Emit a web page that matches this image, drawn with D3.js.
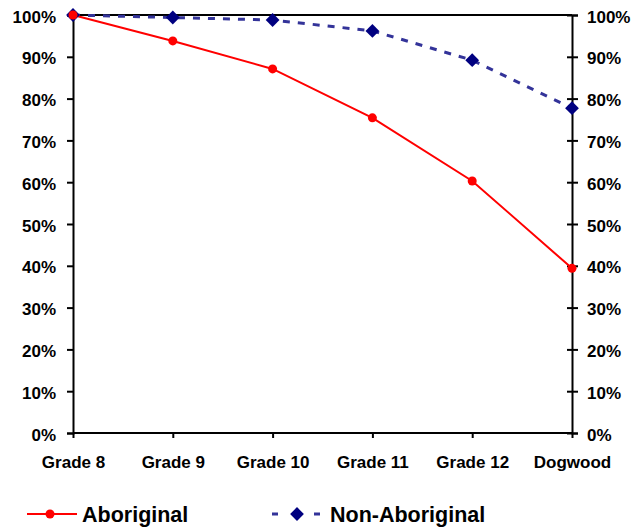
<!DOCTYPE html>
<html><head><meta charset="utf-8">
<script src="https://cdn.jsdelivr.net/npm/d3@7"></script>
<style>body{margin:0;background:#fff}svg{display:block}text{font-family:"Liberation Sans",Arial,sans-serif;font-weight:bold;fill:#000}</style>
</head><body>
<svg id="c" width="633" height="529"></svg>
<script>
const categories = ["Grade 8","Grade 9","Grade 10","Grade 11","Grade 12","Dogwood"];
const aboriginal = [100, 93.8, 87.1, 75.4, 60.3, 39.4];
const nonAboriginal = [100, 99.4, 98.8, 96.2, 89.2, 77.7];
const yTicks = [0,10,20,30,40,50,60,70,80,90,100];

const svg = d3.select("#c");
const L = 73, R = 572, T = 15, B = 433;
const x = d3.scalePoint().domain(categories).range([L, R]);
const y = d3.scaleLinear().domain([0,100]).range([B, T]);

svg.append("line").attr("x1",L).attr("x2",R).attr("y1",T).attr("y2",T).attr("stroke","#000").attr("stroke-width",2);

const fmt = d => d + "%";
const gl = svg.append("g").attr("transform",`translate(${L},0)`)
  .call(d3.axisLeft(y).tickValues(yTicks).tickFormat(fmt).tickSize(6).tickPadding(11));
const gr = svg.append("g").attr("transform",`translate(${R},0)`)
  .call(d3.axisRight(y).tickValues(yTicks).tickFormat(fmt).tickSize(6).tickPadding(9));
gr.selectAll(".tick line").attr("x1",-5);
const gb = svg.append("g").attr("transform",`translate(0,${B})`)
  .call(d3.axisBottom(x).tickSize(5).tickPadding(18));
[gl,gr,gb].forEach(g=>{
  g.select(".domain").attr("stroke","#000").attr("stroke-width",2);
  g.selectAll(".tick line").attr("stroke","#000").attr("stroke-width",2);
  g.selectAll("text").attr("font-size",17).attr("font-family","'Liberation Sans',Arial,sans-serif").attr("font-weight","bold").attr("fill","#000");
});
gl.selectAll("text").attr("dy","0.42em");
gr.selectAll("text").attr("dy","0.42em");
gb.select(".domain").attr("d",`M${L},0H${R}`);

const line = d3.line().x((d,i)=>x(categories[i])).y(d=>y(d));

svg.append("path").datum(nonAboriginal).attr("d",line).attr("fill","none")
  .attr("stroke","#333399").attr("stroke-width",3).attr("stroke-dasharray","7,8");
svg.append("path").datum(aboriginal).attr("d",line).attr("fill","none")
  .attr("stroke","#ff0000").attr("stroke-width",2);

const diamond = d3.symbol().type(d3.symbolSquare).size(95);
svg.selectAll(".dm").data(nonAboriginal).enter().append("path")
  .attr("d",diamond).attr("fill","#000080")
  .attr("transform",(d,i)=>`translate(${x(categories[i])},${y(d)}) rotate(45)`);
svg.selectAll(".ci").data(aboriginal).enter().append("circle")
  .attr("cx",(d,i)=>x(categories[i])).attr("cy",d=>y(d)).attr("r",4.5).attr("fill","#ff0000");

const ly = 514;
const lg = svg.append("g");
lg.append("line").attr("x1",27).attr("x2",77).attr("y1",ly).attr("y2",ly).attr("stroke","#ff0000").attr("stroke-width",2);
lg.append("circle").attr("cx",50).attr("cy",ly).attr("r",4.5).attr("fill","#ff0000");
lg.append("text").attr("x",82).attr("y",ly+8).attr("font-size",21.5).text("Aboriginal");
lg.append("line").attr("x1",272).attr("x2",320).attr("y1",ly).attr("y2",ly).attr("stroke","#333399").attr("stroke-width",3).attr("stroke-dasharray","6,15");
lg.append("path").attr("d",diamond).attr("fill","#000080").attr("transform",`translate(297,${ly}) rotate(45)`);
lg.append("text").attr("x",330).attr("y",ly+8).attr("font-size",21.5).text("Non-Aboriginal");
</script>
</body></html>
